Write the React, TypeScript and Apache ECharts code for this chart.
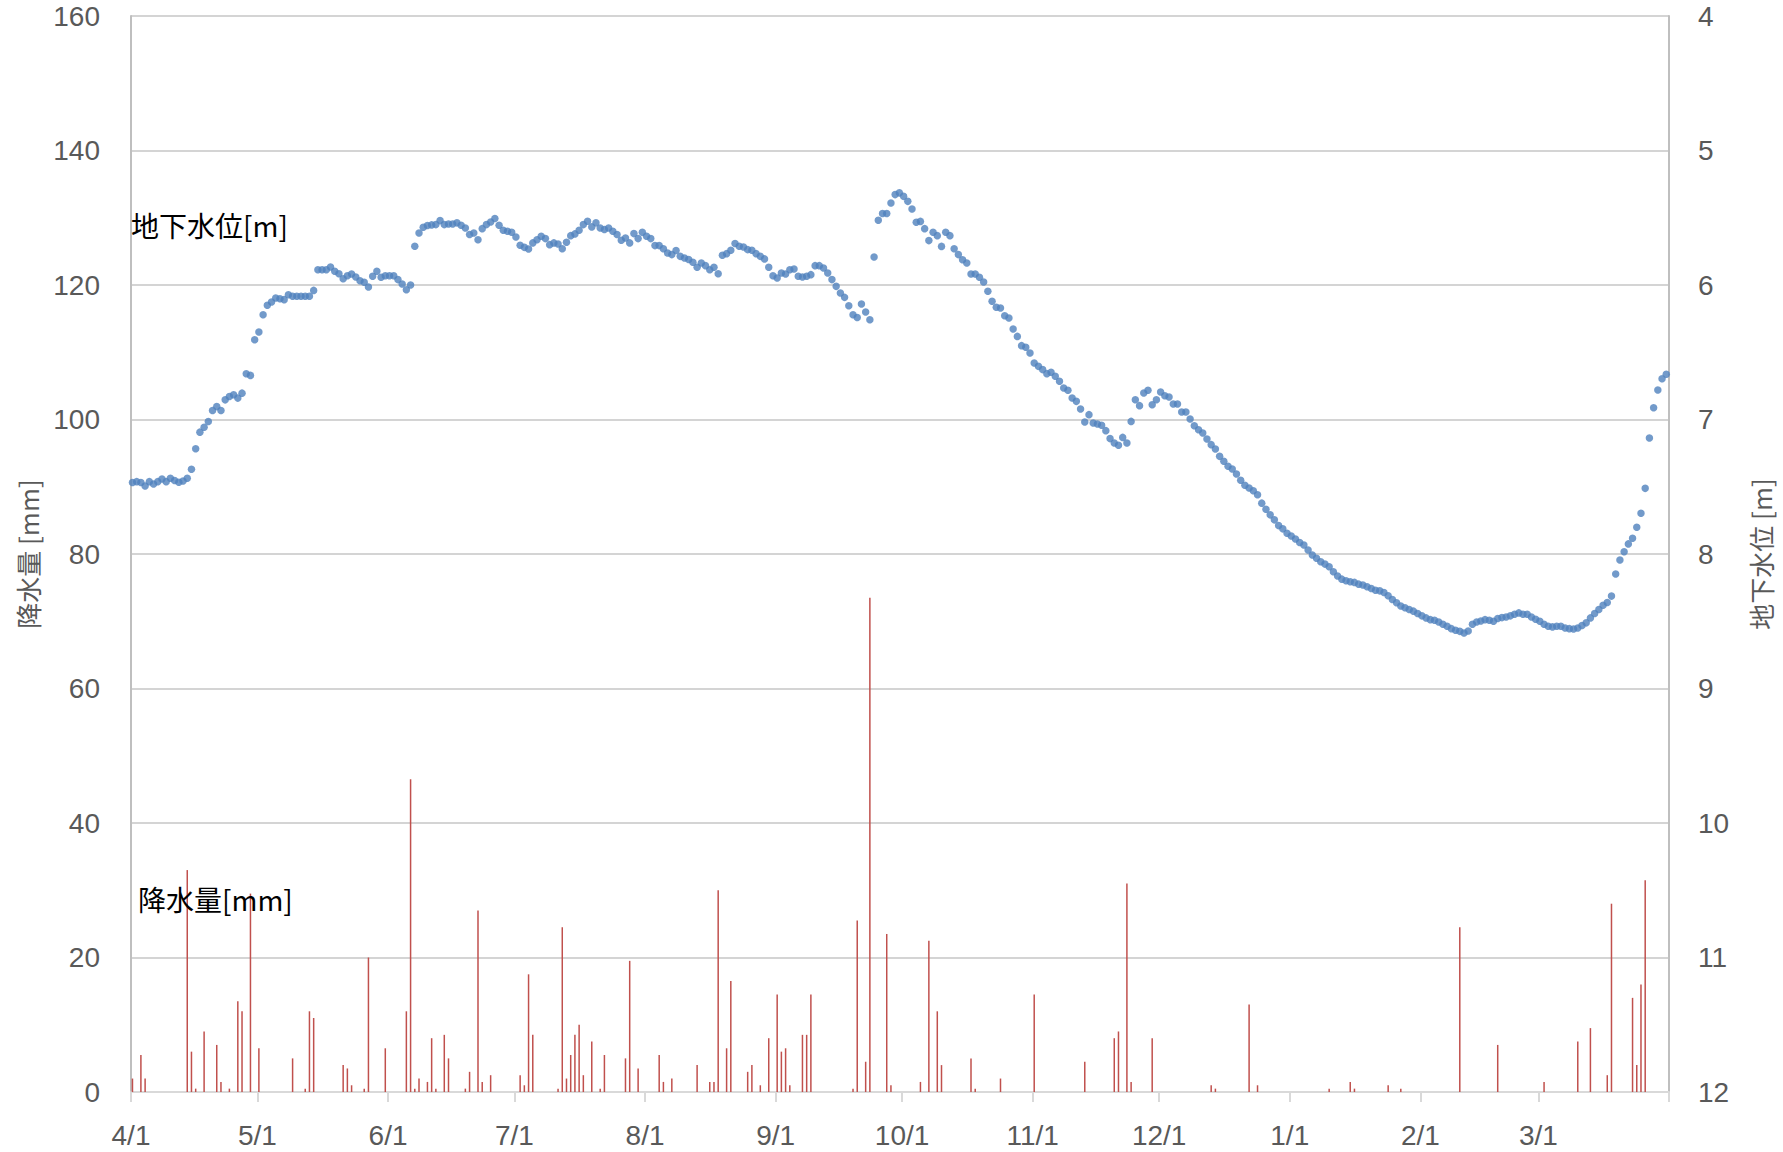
import React, { useEffect, useRef } from "react";
import * as echarts from "echarts";

// x axis: day index from 4/1 (0) to 3/31 (364)
const monthLabels = ["4/1", "5/1", "6/1", "7/1", "8/1", "9/1", "10/1", "11/1", "12/1", "1/1", "2/1", "3/1"];
const monthStartDays = [0, 30, 61, 91, 122, 153, 183, 214, 244, 275, 306, 334];
const yearEndDay = 365;

// precipitation [mm]: day index and amount
const rainDay = [0, 2, 3, 13, 14, 15, 17, 20, 21, 23, 25, 26, 28, 30, 38, 41, 42, 43, 50, 51, 52, 55, 56, 60, 65, 66, 67, 68, 70, 71, 72, 74, 75, 79, 80, 82, 83, 85, 92, 93, 94, 95, 101, 102, 103, 104, 105, 106, 107, 109, 111, 112, 117, 118, 120, 125, 126, 128, 134, 137, 138, 139, 141, 142, 146, 147, 149, 151, 153, 154, 155, 156, 159, 160, 161, 171, 172, 174, 175, 179, 180, 187, 189, 191, 192, 199, 200, 206, 214, 226, 233, 234, 236, 237, 242, 256, 257, 265, 267, 284, 289, 290, 298, 301, 315, 324, 335, 343, 346, 350, 351, 356, 357, 358, 359];
const rainMm = [2, 5.5, 2, 33, 6, 0.5, 9, 7, 1.5, 0.5, 13.5, 12, 29.5, 6.5, 5, 0.5, 12, 11, 4, 3.5, 1, 0.5, 20, 6.5, 12, 46.5, 0.5, 2, 1.5, 8, 0.5, 8.5, 5, 0.5, 3, 27, 1.5, 2.5, 2.5, 1, 17.5, 8.5, 0.5, 24.5, 2, 5.5, 8.5, 10, 2.5, 7.5, 0.5, 5.5, 5, 19.5, 3.5, 5.5, 1.5, 2, 4, 1.5, 1.5, 30, 6.5, 16.5, 3, 4, 1, 8, 14.5, 6, 6.5, 1, 8.5, 8.5, 14.5, 0.5, 25.5, 4.5, 73.5, 23.5, 1, 1.5, 22.5, 12, 4, 5, 0.5, 2, 14.5, 4.5, 8, 9, 31, 1.5, 8, 1, 0.5, 13, 1, 0.5, 1.5, 0.5, 1, 0.5, 24.5, 7, 1.5, 7.5, 9.5, 2.5, 28, 14, 4, 16, 31.5];

// groundwater level [m], one value per day (index 0 = 4/1)
const groundwaterM = [
  7.469, 7.462, 7.469, 7.494, 7.462, 7.479, 7.462, 7.442, 7.462, 7.437,
  7.454, 7.467, 7.457, 7.437, 7.370, 7.218, 7.094, 7.057, 7.015, 6.933,
  6.903, 6.933, 6.854, 6.829, 6.816, 6.841, 6.804, 6.660, 6.672, 6.407,
  6.350, 6.221, 6.151, 6.127, 6.097, 6.102, 6.109, 6.072, 6.084, 6.084,
  6.084, 6.084, 6.084, 6.040, 5.886, 5.886, 5.886, 5.866, 5.898, 5.916,
  5.953, 5.931, 5.918, 5.940, 5.968, 5.980, 6.015, 5.935, 5.898, 5.943,
  5.931, 5.931, 5.931, 5.960, 5.993, 6.035, 6.000, 5.712, 5.613, 5.571,
  5.558, 5.553, 5.551, 5.521, 5.551, 5.546, 5.546, 5.538, 5.556, 5.576,
  5.625, 5.613, 5.663, 5.581, 5.551, 5.531, 5.506, 5.556, 5.593, 5.600,
  5.608, 5.643, 5.705, 5.720, 5.732, 5.687, 5.663, 5.638, 5.655, 5.700,
  5.687, 5.695, 5.730, 5.682, 5.633, 5.620, 5.593, 5.551, 5.526, 5.568,
  5.538, 5.576, 5.588, 5.576, 5.600, 5.625, 5.667, 5.650, 5.687, 5.618,
  5.655, 5.608, 5.638, 5.655, 5.707, 5.707, 5.730, 5.762, 5.774, 5.744,
  5.787, 5.799, 5.811, 5.831, 5.868, 5.836, 5.856, 5.886, 5.868, 5.916,
  5.779, 5.767, 5.742, 5.692, 5.712, 5.717, 5.737, 5.742, 5.767, 5.787,
  5.806, 5.868, 5.931, 5.948, 5.911, 5.918, 5.886, 5.881, 5.935, 5.940,
  5.935, 5.923, 5.856, 5.856, 5.873, 5.911, 5.960, 6.010, 6.060, 6.092,
  6.154, 6.221, 6.241, 6.141, 6.201, 6.258, 5.792, 5.519, 5.469, 5.469,
  5.390, 5.328, 5.315, 5.341, 5.378, 5.435, 5.534, 5.527, 5.581, 5.670,
  5.608, 5.633, 5.713, 5.608, 5.633, 5.730, 5.774, 5.812, 5.836, 5.918,
  5.918, 5.943, 5.978, 6.047, 6.121, 6.166, 6.171, 6.228, 6.245, 6.327,
  6.382, 6.451, 6.463, 6.506, 6.580, 6.605, 6.629, 6.659, 6.649, 6.679,
  6.716, 6.766, 6.783, 6.840, 6.865, 6.922, 7.019, 6.964, 7.026, 7.033,
  7.043, 7.083, 7.142, 7.175, 7.192, 7.133, 7.175, 7.014, 6.853, 6.897,
  6.803, 6.783, 6.890, 6.853, 6.796, 6.823, 6.833, 6.885, 6.885, 6.944,
  6.944, 6.996, 7.046, 7.076, 7.100, 7.145, 7.187, 7.219, 7.274, 7.311,
  7.348, 7.368, 7.405, 7.452, 7.489, 7.509, 7.530, 7.560, 7.622, 7.667,
  7.709, 7.746, 7.789, 7.813, 7.846, 7.866, 7.888, 7.915, 7.933, 7.970,
  8.007, 8.032, 8.057, 8.075, 8.095, 8.132, 8.164, 8.187, 8.199, 8.206,
  8.211, 8.224, 8.231, 8.244, 8.256, 8.269, 8.274, 8.286, 8.311, 8.338,
  8.363, 8.386, 8.400, 8.413, 8.425, 8.443, 8.460, 8.475, 8.488, 8.493,
  8.505, 8.522, 8.537, 8.555, 8.567, 8.575, 8.587, 8.572, 8.522, 8.505,
  8.498, 8.488, 8.493, 8.500, 8.480, 8.473, 8.468, 8.460, 8.448, 8.438,
  8.448, 8.448, 8.468, 8.485, 8.500, 8.522, 8.537, 8.542, 8.537, 8.537,
  8.550, 8.555, 8.557, 8.550, 8.532, 8.512, 8.475, 8.443, 8.413, 8.381,
  8.361, 8.313, 8.149, 8.045, 7.983, 7.925, 7.883, 7.801, 7.697, 7.512,
  7.137, 6.913, 6.781, 6.697, 6.664,
];

const rainAxisTicks = [0, 160, 20];
const levelAxisTicks = [4, 12, 1];
// daily marks sit slightly right of the date tick in the source chart
const dayOffset = 0.35;

const FONT = '"Noto Sans CJK JP", "Noto Sans", sans-serif';
const NUM_FONT = '"Liberation Sans", "DejaVu Sans", sans-serif';

export default function App() {
  const ref = useRef<HTMLDivElement>(null);

  useEffect(() => {
    if (!ref.current) return;
    const chart = echarts.init(ref.current, undefined, { renderer: "svg" });
    const labelOf: Record<number, string> = {};
    monthStartDays.forEach((d, i) => (labelOf[d] = monthLabels[i]));

    chart.setOption({
      animation: false,
      backgroundColor: "#ffffff",
      grid: { left: 131, right: 114, top: 16, bottom: 60, containLabel: false },
      xAxis: {
        type: "value",
        min: 0,
        max: yearEndDay,
        axisLine: { show: true, onZero: false, lineStyle: { color: "#d9d9d9", width: 2 } },
        axisTick: {
          show: true,
          customValues: [...monthStartDays, yearEndDay],
          length: 10,
          lineStyle: { color: "#d9d9d9", width: 2 },
        },
        axisLabel: {
          customValues: monthStartDays,
          formatter: (v: number) => labelOf[v] ?? "",
          margin: 29,
          fontSize: 28,
          lineHeight: 28,
          color: "#595959",
          fontFamily: NUM_FONT,
        },
        splitLine: { show: false },
      },
      yAxis: [
        {
          type: "value",
          min: rainAxisTicks[0],
          max: rainAxisTicks[1],
          interval: rainAxisTicks[2],
          position: "left",
          name: "降水量 [mm]",
          nameLocation: "middle",
          nameRotate: 90,
          nameGap: 91,
          nameTextStyle: { fontSize: 26, color: "#595959", fontFamily: FONT },
          axisLine: { show: true, lineStyle: { color: "#bfbfbf", width: 2 } },
          axisTick: { show: false },
          axisLabel: { margin: 31, fontSize: 28, lineHeight: 28, color: "#595959", fontFamily: NUM_FONT },
          splitLine: { show: true, lineStyle: { color: "#c6c6c6", width: 1.5 } },
        },
        {
          type: "value",
          min: levelAxisTicks[0],
          max: levelAxisTicks[1],
          interval: levelAxisTicks[2],
          inverse: true,
          position: "right",
          name: "地下水位 [m]",
          nameLocation: "middle",
          nameRotate: 90,
          nameGap: 78,
          nameTextStyle: { fontSize: 26, color: "#595959", fontFamily: FONT },
          axisLine: { show: true, lineStyle: { color: "#bfbfbf", width: 2 } },
          axisTick: { show: false },
          axisLabel: { margin: 29, fontSize: 28, lineHeight: 28, color: "#595959", fontFamily: NUM_FONT },
          splitLine: { show: false },
        },
      ],
      series: [
        {
          type: "bar",
          yAxisIndex: 0,
          barWidth: 1.5,
          itemStyle: { color: "#C0504D" },
          data: rainDay.map((d, k) => [d + dayOffset, rainMm[k]]),
          z: 2,
        },
        {
          type: "scatter",
          yAxisIndex: 1,
          symbol: "circle",
          symbolSize: 7.5,
          itemStyle: { color: "#4F81BD" },
          data: groundwaterM.map((v, i) => [i + dayOffset, v]),
          z: 3,
        },
      ],
      graphic: [
        {
          type: "text",
          left: 131,
          top: 211,
          style: { text: "地下水位[m]", fontSize: 28, fill: "#000000", fontFamily: FONT },
          z: 10,
        },
        {
          type: "text",
          left: 138,
          top: 885,
          style: { text: "降水量[mm]", fontSize: 28, fill: "#000000", fontFamily: FONT },
          z: 10,
        },
      ],
    });
    return () => chart.dispose();
  }, []);

  return (
    <div
      ref={ref}
      style={{ position: "fixed", left: 0, top: 0, width: 1783, height: 1152, background: "#fff" }}
    />
  );
}
